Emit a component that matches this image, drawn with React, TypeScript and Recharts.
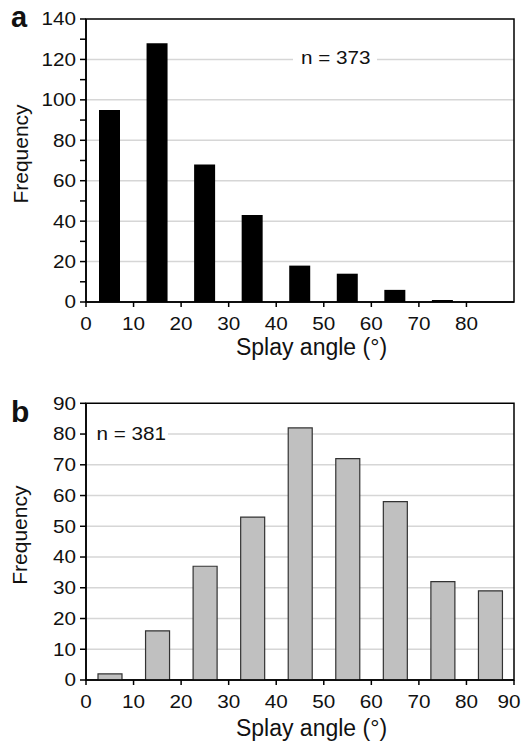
import React from 'react';
import { BarChart, Bar, XAxis, YAxis, CartesianGrid, ReferenceArea } from 'recharts';

// ---------- data ----------
const binCenters = [5, 15, 25, 35, 45, 55, 65, 75, 85];
const countsA = [95, 128, 68, 43, 18, 14, 6, 1, 0];
const countsB = [2, 16, 37, 53, 82, 72, 58, 32, 29];

const xTicksA = [0, 10, 20, 30, 40, 50, 60, 70, 80];
const xTicksB = [0, 10, 20, 30, 40, 50, 60, 70, 80, 90];
const yTicksA = [0, 10, 20, 30, 40, 50, 60, 70, 80, 90, 100, 110, 120, 130, 140];
const yLabelsA = [0, 20, 40, 60, 80, 100, 120, 140];
const gridA = [20, 40, 60, 80, 100, 120];
const yTicksB = [0, 10, 20, 30, 40, 50, 60, 70, 80, 90];
const yLabelsB = [0, 10, 20, 30, 40, 50, 60, 70, 80, 90];
const gridB = [10, 20, 30, 40, 50, 60, 70, 80];

const nA = 'n = 373';
const nB = 'n = 381';
const xTitle = 'Splay angle (°)';
const yTitle = 'Frequency';

const dataA = binCenters.map((x, i) => ({ x, v: countsA[i] }));
const dataB = binCenters.map((x, i) => ({ x, v: countsB[i] }));

const FONT = '"Liberation Sans", Arial, Helvetica, sans-serif';
const SX = 1.15;
const TICK_FS = 18;
const X_MAX = 90;

const XTick = (props: any) => {
  const { x, y, payload } = props;
  const shift = payload.value === X_MAX ? -5 : 0;
  return (
    <g transform={`translate(${x + shift},${y}) scale(${SX},1)`}>
      <text x={0} y={0} dy="0.71em" textAnchor="middle" fontSize={TICK_FS} fill="#111" fontFamily={FONT}>
        {payload.value}
      </text>
    </g>
  );
};

const makeYTick = (labels: number[]) => (props: any) => {
  const { x, y, payload } = props;
  if (!labels.includes(payload.value)) return <g />;
  return (
    <g transform={`translate(${x},${y}) scale(${SX},1)`}>
      <text x={0} y={0} dy="0.355em" textAnchor="end" fontSize={TICK_FS} fill="#111" fontFamily={FONT}>
        {payload.value}
      </text>
    </g>
  );
};

interface PanelProps {
  data: { x: number; v: number }[];
  height: number;
  marginTop: number;
  xAxisHeight: number;
  yMax: number;
  xTicks: number[];
  yTicks: number[];
  yLabels: number[];
  grid: number[];
  barSize: number;
  fill: string;
  stroke: string;
  titleDy: number;
  yTitleShift: number;
}

const Panel = (p: PanelProps) => {
  const YTick = makeYTick(p.yLabels);
  return (
    <BarChart
      width={522}
      height={p.height}
      data={p.data}
      margin={{ top: p.marginTop, right: 8, bottom: 0, left: 0 }}
      style={{ fontFamily: FONT }}
    >
      <CartesianGrid vertical={false} horizontalValues={p.grid} stroke="#d6d6d6" strokeWidth={1.5} />
      <XAxis
        type="number"
        dataKey="x"
        domain={[0, X_MAX]}
        ticks={p.xTicks}
        interval={0}
        height={p.xAxisHeight}
        tickSize={5}
        tickMargin={10}
        axisLine={{ stroke: '#000', strokeWidth: 1.5 }}
        tickLine={{ stroke: '#000', strokeWidth: 1.5 }}
        tick={<XTick />}
        label={{
          content: (lp: any) => {
            const vb = lp.viewBox;
            return (
              <text
                x={vb.x + vb.width / 2 + 11.5}
                y={vb.y + p.titleDy}
                textAnchor="middle"
                fontSize={23}
                fill="#111"
                fontFamily={FONT}
              >
                {xTitle}
              </text>
            );
          },
        }}
      />
      <YAxis
        type="number"
        domain={[0, p.yMax]}
        ticks={p.yTicks}
        interval={0}
        width={86}
        tickSize={6}
        tickMargin={4}
        axisLine={{ stroke: '#000', strokeWidth: 1.5 }}
        tickLine={{ stroke: '#000', strokeWidth: 1.5 }}
        tick={<YTick />}
        label={{
          content: (lp: any) => {
            const vb = lp.viewBox;
            const cx = 27.5;
            const cy = vb.y + vb.height / 2 + p.yTitleShift;
            return (
              <text
                x={cx}
                y={cy}
                transform={`rotate(-90, ${cx}, ${cy})`}
                textAnchor="middle"
                fontSize={21}
                fill="#111"
                fontFamily={FONT}
              >
                {yTitle}
              </text>
            );
          },
        }}
      />
      <Bar
        dataKey="v"
        barSize={p.barSize}
        fill={p.fill}
        stroke={p.stroke}
        strokeWidth={p.stroke === 'none' ? 0 : 1.2}
        isAnimationActive={false}
      />
      <ReferenceArea
        x1={0}
        x2={X_MAX}
        y1={0}
        y2={p.yMax}
        fill="none"
        fillOpacity={0}
        stroke="#000"
        strokeWidth={1.5}
        ifOverflow="visible"
      />
    </BarChart>
  );
};

export default function App() {
  return (
    <>
      <style>{`html,body{margin:0;padding:0;overflow:hidden;background:#fff}`}</style>
      <div style={{ position: 'relative', width: 522, height: 742, background: '#fff' }}>
        <div style={{ position: 'absolute', left: 0, top: 0 }}>
          <Panel
            data={dataA}
            height={370}
            marginTop={19}
            xAxisHeight={68}
            yMax={140}
            xTicks={xTicksA}
            yTicks={yTicksA}
            yLabels={yLabelsA}
            grid={gridA}
            barSize={21}
            fill="#000"
            stroke="none"
            titleDy={53}
            yTitleShift={-6.5}
          />
        </div>
        <div style={{ position: 'absolute', left: 0, top: 370 }}>
          <Panel
            data={dataB}
            height={372}
            marginTop={33.3}
            xAxisHeight={62}
            yMax={90}
            xTicks={xTicksB}
            yTicks={yTicksB}
            yLabels={yLabelsB}
            grid={gridB}
            barSize={24}
            fill="#c0c0c0"
            stroke="#333"
            titleDy={56}
            yTitleShift={-6.5}
          />
        </div>
        <svg
          width={522}
          height={742}
          style={{ position: 'absolute', left: 0, top: 0, pointerEvents: 'none', fontFamily: FONT }}
        >
          <text x={11} y={27} fontSize={29} fontWeight="bold" fill="#111">a</text>
          <text x={11} y={421.5} fontSize={30} fontWeight="bold" fill="#111">b</text>
          <rect x={293} y={49} width={84} height={20} fill="#fff" />
          <g transform={`translate(301,63.5) scale(${SX},1)`}>
            <text x={0} y={0} fontSize={TICK_FS} fill="#111">{nA}</text>
          </g>
          <rect x={87} y={426} width={81} height={16} fill="#fff" />
          <g transform={`translate(96.5,439.5) scale(${SX},1)`}>
            <text x={0} y={0} fontSize={TICK_FS} fill="#111">{nB}</text>
          </g>
        </svg>
      </div>
    </>
  );
}
